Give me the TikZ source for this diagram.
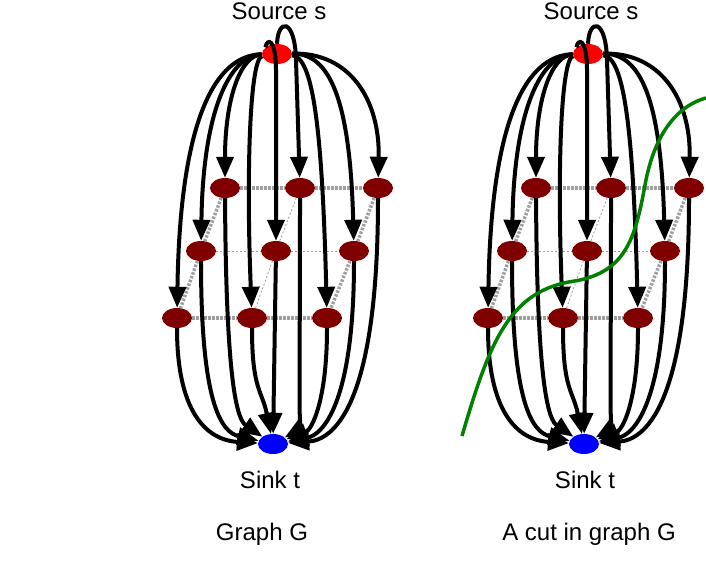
\documentclass[tikz,border=0pt]{standalone}
\usepackage{fontspec}
\setmainfont{Liberation Sans}
\usetikzlibrary{arrows.meta,shapes.geometric}
\definecolor{pixred}{RGB}{128,0,0}
\definecolor{cutgreen}{RGB}{0,128,0}

\begin{document}
\begin{tikzpicture}[
  x=1pt, y=-1pt,
  vtx/.style={ellipse, minimum width=30pt, minimum height=20pt, inner sep=0pt},
  pix/.style={vtx, fill=pixred},
  src/.style={vtx, fill=red},
  snk/.style={vtx, fill=blue},
  flow/.style={-{Triangle[length=21pt, width=17pt]}, line width=4pt},
  nbr/.style={gray!75, line width=3.5pt, dash pattern=on 2.5pt off 1.5pt},
  nbrthin/.style={gray!75, line width=0.8pt, dash pattern=on 2pt off 2pt},
  cut/.style={cutgreen, line width=3.5pt},
  lbl/.style={font=\fontsize{24}{28}\selectfont, anchor=base, inner sep=0pt}
]
\useasboundingbox (0,0) rectangle (706,573);

\foreach \dx/\g in {0/a, 311/b} {
\begin{scope}[xshift=\dx pt]
% Terminals
\node[src] (s\g) at (277,54) {};
\node[snk] (t\g) at (273,444) {};

% Pixel grid
\foreach \n/\x/\y in {11/225/188, 12/300/188, 13/378/188,
                      21/201/251, 22/276/251, 23/354/251,
                      31/177/318, 32/252/318, 33/327/318}
  \node[pix] (v\g\n) at (\x,\y) {};

% Neighbour links
\draw[nbr] (v\g11) -- (v\g12) -- (v\g13);
\draw[nbr] (v\g31) -- (v\g32) -- (v\g33);
\draw[nbr] (v\g11) -- (v\g21) -- (v\g31);
\draw[nbr] (v\g13) -- (v\g23) -- (v\g33);
\draw[nbrthin] (v\g21) -- (v\g22) -- (v\g23);
\draw[nbrthin] (v\g12) -- (v\g22) -- (v\g32);

% Source edges
\draw[flow] (s\g) .. controls (215,55) and (180,120) .. (v\g31);
\draw[flow] (s\g) .. controls (230,55) and (203,110) .. (v\g21);
\draw[flow] (s\g) .. controls (240,55) and (225,100) .. (v\g11);
\draw[flow] (s\g) .. controls (250,58) and (246,170) .. (v\g32);
\draw[flow] (s\g.150) .. controls (267,38) and (276,38) .. (276,70) -- (v\g22);
\draw[flow] (s\g.north) .. controls (278,18) and (295,18) .. (296,60) -- (v\g12);
\draw[flow] (s\g) .. controls (312,57) and (322,120) .. (v\g33);
\draw[flow] (s\g) .. controls (330,53) and (350,100) .. (v\g23);
\draw[flow] (s\g) .. controls (350,52) and (380,100) .. (v\g13);

% Sink edges
\draw[flow] (v\g31) .. controls (177,410) and (205,440) .. (t\g);
\draw[flow] (v\g21) .. controls (201,400) and (220,432) .. (t\g);
\draw[flow] (v\g11) .. controls (226,390) and (238,420) .. (t\g);
\draw[flow] (v\g32) .. controls (252,390) and (262,390) .. (t\g);
\draw[flow] (v\g22) -- (t\g);
\draw[flow] (v\g12) .. controls (300,400) and (298,430) .. (t\g);
\draw[flow] (v\g33) .. controls (327,400) and (312,430) .. (t\g);
\draw[flow] (v\g23) .. controls (354,405) and (322,435) .. (t\g);
\draw[flow] (v\g13) .. controls (378,410) and (332,440) .. (t\g);
\end{scope}
}

% Labels
\node[lbl] (srca) at (279,19.5) {Source s};
\node[lbl] (srcb) at (591,19.5) {Source s};
\node[lbl] (snka) at (270,488) {Sink t};
\node[lbl] (snkb) at (585,488) {Sink t};
\node[lbl] (capa) at (262,540) {Graph G};
\node[lbl] (capb) at (589,540) {A cut in graph G};

% The cut
\draw[cut] (462,436) .. controls (490,340) and (510,290) .. (575,281)
  .. controls (625,272) and (635,240) .. (645,185)
  .. controls (655,130) and (680,105) .. (706,98);

\end{tikzpicture}
\end{document}
